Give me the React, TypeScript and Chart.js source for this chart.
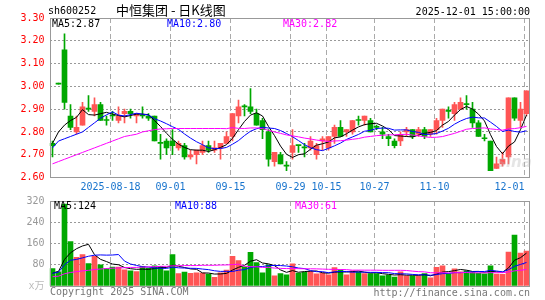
import React, { useEffect, useRef } from 'react';
import { Chart, registerables } from 'chart.js';
Chart.register(...registerables);

// ---- data ----
const dates = [
  '2025-08-04','2025-08-05','2025-08-06','2025-08-07','2025-08-08','2025-08-11','2025-08-12','2025-08-13','2025-08-14','2025-08-15',
  '2025-08-18','2025-08-19','2025-08-20','2025-08-21','2025-08-22','2025-08-25','2025-08-26','2025-08-27','2025-08-28','2025-08-29',
  '2025-09-01','2025-09-02','2025-09-03','2025-09-04','2025-09-05','2025-09-08','2025-09-09','2025-09-10','2025-09-11','2025-09-12',
  '2025-09-15','2025-09-16','2025-09-17','2025-09-18','2025-09-19','2025-09-22','2025-09-23','2025-09-24','2025-09-25','2025-09-26',
  '2025-09-29','2025-09-30','2025-10-09','2025-10-10','2025-10-13','2025-10-14','2025-10-15','2025-10-16','2025-10-17','2025-10-20',
  '2025-10-21','2025-10-22','2025-10-23','2025-10-24','2025-10-27','2025-10-28','2025-10-29','2025-10-30','2025-10-31','2025-11-03',
  '2025-11-04','2025-11-05','2025-11-06','2025-11-07','2025-11-10','2025-11-11','2025-11-12','2025-11-13','2025-11-14','2025-11-17',
  '2025-11-18','2025-11-19','2025-11-20','2025-11-21','2025-11-24','2025-11-25','2025-11-26','2025-11-27','2025-11-28','2025-12-01'
];
const opens = [2.75,3.01,3.16,2.87,2.80,2.83,2.90,2.89,2.92,2.85, 2.87,2.85,2.88,2.89,2.87,2.87,2.87,2.87,2.75,2.76,
  2.76,2.73,2.74,2.69,2.70,2.71,2.74,2.72,2.73,2.75, 2.78,2.87,2.91,2.91,2.88,2.85,2.80,2.67,2.70,2.65,
  2.71,2.74,2.73,2.73,2.70,2.76,2.73,2.78,2.82,2.80, 2.80,2.85,2.85,2.85,2.82,2.80,2.78,2.76,2.76,2.80,
  2.81,2.79,2.81,2.79,2.81,2.85,2.89,2.88,2.90,2.92, 2.90,2.84,2.77,2.76,2.64,2.66,2.69,2.95,2.85,2.88];
const highs = [2.76,3.01,3.23,2.92,2.87,2.93,2.96,2.95,2.93,2.87, 2.89,2.91,2.90,2.90,2.88,2.91,2.88,2.87,2.79,2.77,
  2.81,2.76,2.75,2.72,2.72,2.76,2.76,2.76,2.75,2.80, 2.88,2.94,2.92,2.99,2.90,2.86,2.81,2.71,2.71,2.67,
  2.81,2.74,2.75,2.78,2.75,2.78,2.78,2.83,2.85,2.81, 2.85,2.87,2.87,2.86,2.83,2.82,2.79,2.77,2.80,2.82,
  2.81,2.82,2.82,2.81,2.86,2.90,2.91,2.93,2.95,2.96, 2.93,2.85,2.79,2.76,2.69,2.71,2.95,2.95,2.93,2.98];
const lows = [2.69,3.01,2.90,2.81,2.79,2.83,2.89,2.87,2.85,2.83, 2.85,2.84,2.84,2.86,2.84,2.86,2.85,2.76,2.68,2.70,
  2.70,2.72,2.68,2.68,2.66,2.70,2.71,2.71,2.68,2.75, 2.76,2.84,2.87,2.88,2.83,2.77,2.65,2.65,2.66,2.63,
  2.68,2.71,2.69,2.72,2.68,2.72,2.72,2.75,2.78,2.78, 2.79,2.83,2.83,2.80,2.81,2.77,2.74,2.73,2.74,2.78,
  2.77,2.78,2.77,2.78,2.79,2.82,2.86,2.85,2.90,2.90, 2.82,2.78,2.76,2.63,2.64,2.65,2.66,2.85,2.82,2.87];
const closes = [2.74,3.01,2.93,2.82,2.82,2.91,2.90,2.92,2.85,2.85, 2.87,2.87,2.89,2.88,2.88,2.87,2.86,2.76,2.75,2.73,
  2.74,2.75,2.69,2.70,2.72,2.74,2.72,2.73,2.75,2.78, 2.88,2.91,2.91,2.89,2.83,2.81,2.68,2.71,2.66,2.65,
  2.74,2.74,2.73,2.76,2.74,2.77,2.78,2.82,2.78,2.81, 2.85,2.85,2.87,2.80,2.82,2.79,2.77,2.74,2.79,2.81,
  2.78,2.81,2.78,2.81,2.85,2.90,2.89,2.92,2.93,2.92, 2.84,2.78,2.77,2.63,2.66,2.68,2.95,2.86,2.90,2.98];
const volumes = [66,53,308,167,108,118,84,112,80,66, 71,71,61,57,54,74,67,76,74,57,
  118,47,52,48,50,49,45,33,50,60, 112,96,72,127,88,50,80,38,47,42,
  83,49,51,54,46,49,42,69,61,42, 57,53,47,47,47,38,41,34,53,38,
  38,38,47,31,70,76,47,65,53,57, 51,49,46,76,45,44,128,192,124,131];

// moving-average values before a full window is available
const priceMa5Head = [2.75, 2.80, 2.83, 2.85];
const priceMa10Head = [2.73, 2.76, 2.77, 2.78, 2.79, 2.80, 2.82, 2.84, 2.86];
const priceMa30Head = [2.66,2.67,2.68,2.69,2.70,2.71,2.72,2.73,2.74,2.75,2.76,2.77,2.78,2.785,2.79,2.80,2.805,2.81,2.813,2.814,2.815,2.815,2.815,2.815,2.815,2.815,2.815,2.815,2.815];
const volMa5Head = [48, 55, 100, 125];
const volMa10Head = [48, 52, 80, 97, 100, 106, 112, 116, 117];
const volMa30Head = [35,37,46,51,54,57,59,62,64,66,67,68,69,70,70,71,72,73,74,74,76,76,77,77,77,78,78,78,79];

const axisDates = ['2025-08-18','2025-09-01','2025-09-15','2025-09-29','2025-10-15','2025-10-27','2025-11-10','2025-12-01'];
const priceLegend = ['MA5:2.87', 'MA10:2.80', 'MA30:2.82'];
const volLegend = ['MA5:124', 'MA10:88', 'MA30:61'];
const stockCode = 'sh600252';
const chartTitle = '中恒集团 - 日K线图';
const timeStamp = '2025-12-01 15:00:00';

const UP = '#FF5555';
const DOWN = '#00A800';
const MONO = '"DejaVu Sans Mono", "Noto Sans CJK SC", monospace';

function movingAvg(values: number[], n: number, head: number[]) {
  return values.map((_, i) => {
    if (i < n - 1) return head[i];
    let s = 0;
    for (let j = i - n + 1; j <= i; j++) s += values[j];
    return s / n;
  });
}

function framePlugin(dateIdx: number[]) {
  return {
    id: 'frame',
    beforeDatasetsDraw(chart: any) {
      const { ctx, chartArea: ca, scales } = chart;
      const xs = scales.x;
      ctx.save();
      ctx.strokeStyle = '#AAAAAA';
      ctx.lineWidth = 1;
      ctx.setLineDash([5, 3]);
      dateIdx.forEach((i) => {
        const x = Math.round(xs.getPixelForValue(i) - 2.5) + 0.5;
        ctx.beginPath();
        ctx.moveTo(x, ca.top);
        ctx.lineTo(x, ca.bottom);
        ctx.stroke();
      });
      ctx.restore();
    },
    afterDraw(chart: any) {
      const { ctx, chartArea: ca } = chart;
      ctx.save();
      ctx.strokeStyle = '#999999';
      ctx.lineWidth = 1;
      ctx.setLineDash([]);
      const l = Math.ceil(ca.left) + 0.5;
      const r = Math.floor(ca.right) + 0.5;
      const t = Math.floor(ca.top) + 0.5;
      const b = Math.floor(ca.bottom) + 0.5;
      ctx.strokeRect(l, t, r - l, b - t);
      ctx.restore();
    },
  };
}

const lineDs = (label: string, data: number[], color: string) => ({
  type: 'line' as const,
  label,
  data,
  borderColor: color,
  borderWidth: 1,
  pointRadius: 0,
  tension: 0,
  fill: false,
  order: 0,
});

export default function App() {
  const mainRef = useRef<HTMLCanvasElement>(null);
  const volRef = useRef<HTMLCanvasElement>(null);

  useEffect(() => {
    document.body.style.margin = '0';
    const colors = closes.map((c, i) => (c > opens[i] ? UP : DOWN));
    const dateIdx = axisDates.map((d) => dates.indexOf(d));
    const labelFor = (i: number) => {
      const j = dateIdx.indexOf(i);
      if (j < 0) return '';
      return j === 0 ? axisDates[0] : axisDates[j].slice(5);
    };

    const main = new Chart(mainRef.current!, {
      type: 'bar',
      data: {
        labels: dates,
        datasets: [
          {
            type: 'bar',
            label: 'wick',
            data: lows.map((l, i) => [l, highs[i]]) as any,
            backgroundColor: colors,
            barThickness: 1,
            grouped: false,
            minBarLength: 1,
            order: 2,
          },
          {
            type: 'bar',
            label: 'body',
            data: opens.map((o, i) => [o, closes[i]]) as any,
            backgroundColor: colors,
            barThickness: 5,
            grouped: false,
            minBarLength: 1,
            order: 1,
          },
          lineDs('MA30', movingAvg(closes, 30, priceMa30Head), '#FF00FF'),
          lineDs('MA10', movingAvg(closes, 10, priceMa10Head), '#0000FF'),
          lineDs('MA5', movingAvg(closes, 5, priceMa5Head), '#000000'),
        ] as any,
      },
      options: {
        responsive: false,
        animation: false,
        events: [],
        layout: { padding: { top: 18, right: 15.5, bottom: 106.5, left: 0 } },
        plugins: { legend: { display: false }, tooltip: { enabled: false } },
        scales: {
          x: {
            type: 'category',
            offset: true,
            grid: { display: false, drawTicks: false },
            border: { display: false },
            ticks: {
              autoSkip: false,
              maxRotation: 0,
              minRotation: 0,
              align: 'inner',
              labelOffset: -2,
              padding: 4,
              color: '#1874CD',
              font: { family: MONO, size: 10 },
              callback: (_v: any, i: number) => labelFor(i),
            },
            afterFit: (s: any) => { s.height = 16; },
          },
          y: {
            min: 2.6,
            max: 3.3,
            grid: {
              drawTicks: false,
              color: (c: any) => (Math.abs(c.tick.value - 2.6) < 1e-6 || Math.abs(c.tick.value - 3.3) < 1e-6 ? 'rgba(0,0,0,0)' : '#999999'),
            },
            border: { display: false, dash: [2, 2] },
            ticks: {
              stepSize: 0.1,
              padding: 5,
              color: '#FF0000',
              font: { family: MONO, size: 10 },
              callback: (v: any) => Number(v).toFixed(2),
            },
            afterFit: (s: any) => { s.width = 49.5; },
          },
        },
      } as any,
      plugins: [framePlugin(dateIdx)],
    });

    const vol = new Chart(volRef.current!, {
      type: 'bar',
      data: {
        labels: dates,
        datasets: [
          {
            type: 'bar',
            label: 'volume',
            data: volumes,
            backgroundColor: colors,
            barThickness: 5,
            grouped: false,
            order: 1,
          },
          lineDs('MA30', movingAvg(volumes, 30, volMa30Head), '#FF00FF'),
          lineDs('MA10', movingAvg(volumes, 10, volMa10Head), '#0000FF'),
          lineDs('MA5', movingAvg(volumes, 5, volMa5Head), '#000000'),
        ] as any,
      },
      options: {
        responsive: false,
        animation: false,
        events: [],
        layout: { padding: { top: 201, right: 15.5, bottom: 14, left: 0 } },
        plugins: { legend: { display: false }, tooltip: { enabled: false } },
        scales: {
          x: { type: 'category', offset: true, display: false },
          y: {
            min: 0,
            max: 320,
            grid: {
              drawTicks: false,
              color: (c: any) => (c.tick.value === 0 || c.tick.value === 320 ? 'rgba(0,0,0,0)' : '#999999'),
            },
            border: { display: false, dash: [2, 2] },
            ticks: {
              stepSize: 80,
              padding: 5,
              color: (c: any) => (c.tick && c.tick.value === 0 ? '#BBBBBB' : '#999999'),
              font: { family: MONO, size: 10 },
              callback: (v: any) => (Number(v) === 0 ? 'x万' : String(v)),
            },
            afterFit: (s: any) => { s.width = 49.5; },
          },
        },
      } as any,
      plugins: [framePlugin(dateIdx)],
    });

    return () => {
      main.destroy();
      vol.destroy();
    };
  }, []);

  const txt = (extra: React.CSSProperties): React.CSSProperties => ({
    position: 'absolute',
    font: `10px ${MONO}`,
    lineHeight: '12px',
    whiteSpace: 'pre',
    ...extra,
  });

  return (
    <div style={{ position: 'absolute', left: 0, top: 0, width: 545, height: 300, background: '#fff', overflow: 'hidden' }}>
      <canvas ref={mainRef} width={545} height={300} style={{ position: 'absolute', left: 0, top: 0, width: 545, height: 300 }} />
      <canvas ref={volRef} width={545} height={300} style={{ position: 'absolute', left: 0, top: 0, width: 545, height: 300 }} />
      <div style={txt({ left: 48, top: 5, color: '#000' })}>{stockCode}</div>
      <div style={{ position: 'absolute', left: 116, top: 2, font: '13px "Noto Sans CJK SC", sans-serif', lineHeight: '16px', whiteSpace: 'pre', color: '#000' }}>{chartTitle}</div>
      <div style={txt({ right: 15, top: 6, color: '#000' })}>{timeStamp}</div>
      <div style={txt({ left: 52, top: 18, color: '#000' })}>{priceLegend[0]}</div>
      <div style={txt({ left: 167, top: 18, color: '#0000FF' })}>{priceLegend[1]}</div>
      <div style={txt({ left: 283, top: 18, color: '#FF00FF' })}>{priceLegend[2]}</div>
      <div style={txt({ left: 54, top: 200, color: '#000' })}>{volLegend[0]}</div>
      <div style={txt({ left: 175, top: 200, color: '#0000FF' })}>{volLegend[1]}</div>
      <div style={txt({ left: 295, top: 200, color: '#FF00FF' })}>{volLegend[2]}</div>
      <div style={{ position: 'absolute', left: 497, top: 153, font: 'italic bold 15px "DejaVu Sans", sans-serif', color: 'rgba(180,180,180,0.35)' }}>sina</div>
      <div style={txt({ left: 50, top: 286, color: '#777' })}>Copyright 2025 SINA.COM</div>
      <div style={txt({ right: 15, top: 287, color: '#777' })}>http://finance.sina.com.cn</div>
    </div>
  );
}
